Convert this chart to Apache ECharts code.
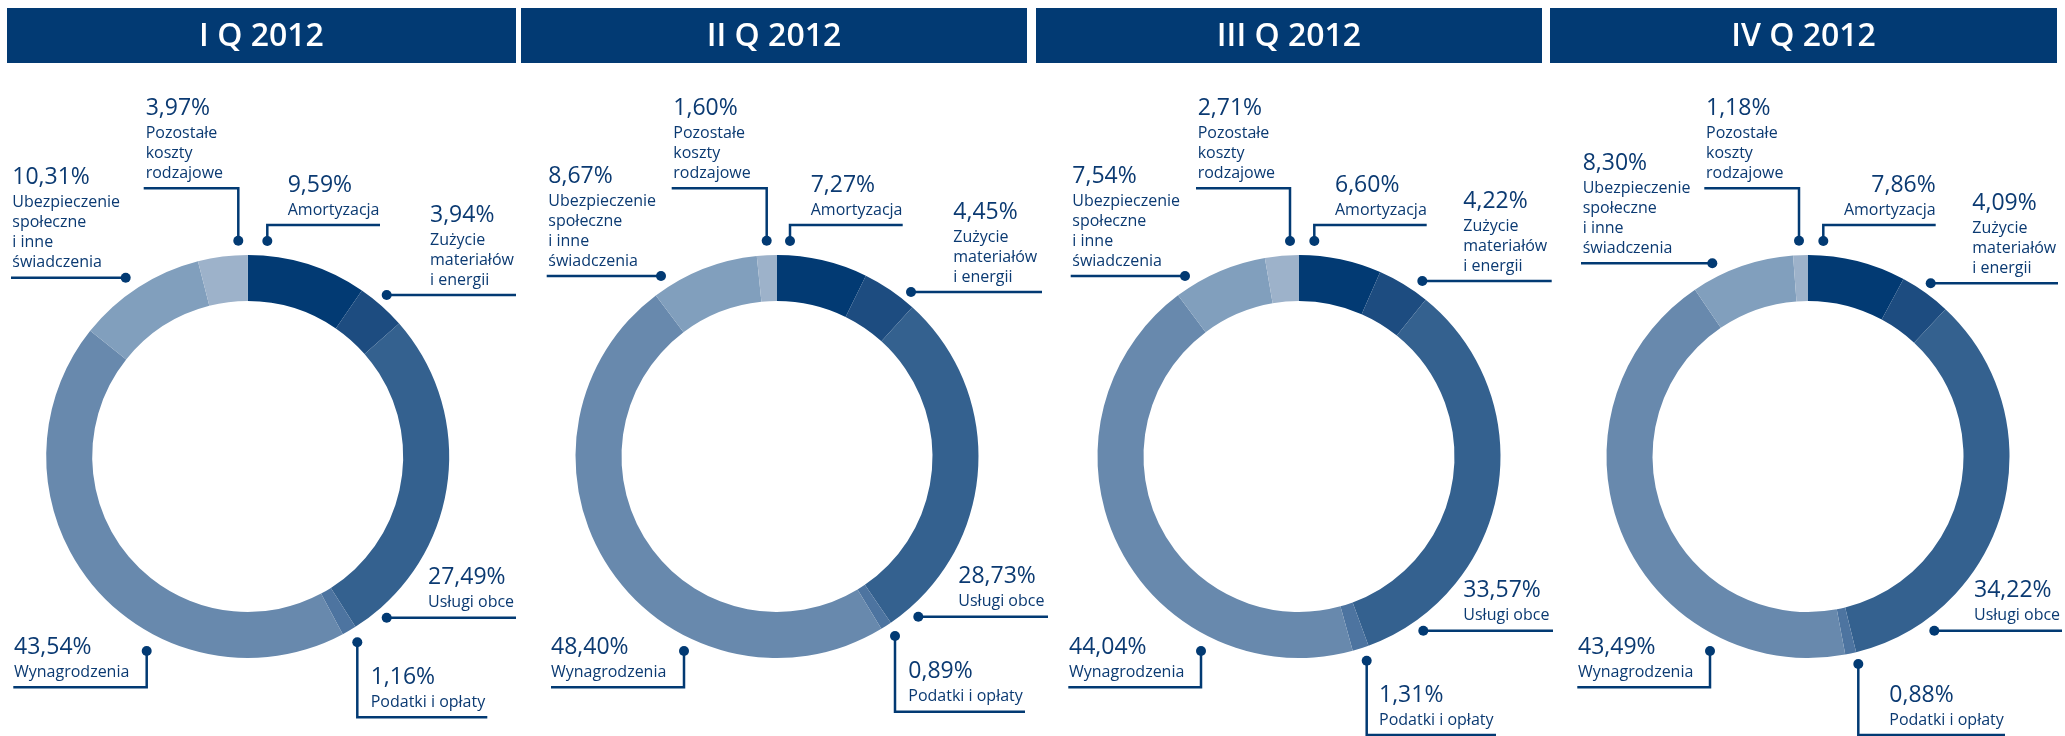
<!DOCTYPE html>
<html><head><meta charset="utf-8">
<script src="https://cdn.jsdelivr.net/npm/echarts@6/dist/echarts.min.js"></script>
<style>html,body{margin:0;padding:0;background:#fff}#c{width:2065px;height:736px}</style>
</head><body><div id="c"></div>
<script>
// ---- data ----
const quarters = ['I Q 2012', 'II Q 2012', 'III Q 2012', 'IV Q 2012'];
const categories = ['Amortyzacja', 'Zużycie materiałów i energii', 'Usługi obce', 'Podatki i opłaty',
  'Wynagrodzenia', 'Ubezpieczenie społeczne i inne świadczenia', 'Pozostałe koszty rodzajowe'];
const labelText = ['Amortyzacja', 'Zużycie\nmateriałów\ni energii', 'Usługi obce', 'Podatki i opłaty',
  'Wynagrodzenia', 'Ubezpieczenie\nspołeczne\ni inne\nświadczenia', 'Pozostałe\nkoszty\nrodzajowe'];
const q1 = [9.59, 3.94, 27.49, 1.16, 43.54, 10.31, 3.97];
const q2 = [7.27, 4.45, 28.73, 0.89, 48.40, 8.67, 1.60];
const q3 = [6.60, 4.22, 33.57, 1.31, 44.04, 7.54, 2.71];
const q4 = [7.86, 4.09, 34.22, 0.88, 43.49, 8.30, 1.18];
const quarterValues = [q1, q2, q3, q4];

// ---- styles / layout ----
const NAVY = '#023a73';
const TEXT = '#0b3a72';
const colors = ['#023a73', '#1d4c80', '#34618f', '#4d74a0', '#6889ad', '#819fbd', '#9db2ca'];
const centersX = [247.7, 777, 1299, 1808];
const CY = 456.5;
const bars = [[7, 516], [521, 1027], [1036, 1542], [1550, 2057]];
// d: dot, c: corner (or null), e: line end, lx: label x, al: align
const LAYOUT = [
  [
    {d:[267.3,241], c:[267.3,225], e:[380,225], lx:287.7},
    {d:[386.7,295], c:null, e:[516,295], lx:430},
    {d:[386.7,617.7], c:null, e:[516,617.7], lx:428},
    {d:[357.3,642.3], c:[357.3,717.3], e:[487.3,717.3], lx:370.7},
    {d:[146.7,651], c:[146.7,687.3], e:[13.3,687.3], lx:14},
    {d:[125.7,277.7], c:null, e:[11,277.7], lx:12.3},
    {d:[238.3,240.7], c:[238.3,188.3], e:[143.7,188.3], lx:145.7}
  ],
  [
    {d:[790,241], c:[790,225], e:[902.7,225], lx:810.7},
    {d:[911,292], c:null, e:[1042,292], lx:953.3},
    {d:[918.3,616.7], c:null, e:[1048,616.7], lx:958.3},
    {d:[895,636], c:[895,711.7], e:[1025,711.7], lx:908.3},
    {d:[684,651], c:[684,687.3], e:[551,687.3], lx:551},
    {d:[661,276], c:null, e:[546.7,276], lx:548.3},
    {d:[766.7,240.7], c:[766.7,188.3], e:[671.7,188.3], lx:673.3}
  ],
  [
    {d:[1314.3,241], c:[1314.3,225], e:[1426.7,225], lx:1335},
    {d:[1422.3,281], c:null, e:[1551.7,281], lx:1463.3},
    {d:[1423.3,630.7], c:null, e:[1553,630.7], lx:1463.3},
    {d:[1366.7,660.7], c:[1366.7,735], e:[1496,735], lx:1379},
    {d:[1201,651], c:[1201,687.3], e:[1068.3,687.3], lx:1069},
    {d:[1185,276], c:null, e:[1070.7,276], lx:1072.3},
    {d:[1290,241], c:[1290,188.3], e:[1196,188.3], lx:1197.7}
  ],
  [
    {d:[1823.3,241], c:[1823.3,225], e:[1935.7,225], lx:1935.7, al:'right'},
    {d:[1930.7,283.3], c:null, e:[2058,283.3], lx:1972.3},
    {d:[1934.3,630.7], c:null, e:[2062,630.7], lx:1974},
    {d:[1858.3,664], c:[1858.3,735], e:[2005,735], lx:1889.3},
    {d:[1710,651], c:[1710,687.3], e:[1577.3,687.3], lx:1578},
    {d:[1712.3,263.3], c:null, e:[1581,263.3], lx:1582.7},
    {d:[1799,240.7], c:[1799,188.3], e:[1704.3,188.3], lx:1706}
  ]
];

function fmt(v) { return v.toFixed(2).replace('.', ',') + '%'; }

const chart = echarts.init(document.getElementById('c'));

const series = quarterValues.map((vals, s) => ({
  type: 'pie',
  name: quarters[s],
  center: [centersX[s], CY],
  radius: [155.5, 201.5],
  startAngle: 90,
  clockwise: true,
  avoidLabelOverlap: false,
  silent: true,
  animation: false,
  emphasis: { disabled: true },
  itemStyle: { borderWidth: 0 },
  data: vals.map((v, i) => ({ name: categories[i], value: v, itemStyle: { color: colors[i] } })),
  label: {
    show: true,
    position: 'outside',
    formatter: (p) => {
      const L = LAYOUT[s][p.dataIndex];
      const r = L.al === 'right';
      const pk = r ? 'pr' : 'p', nk = r ? 'nr' : 'n';
      return '{' + pk + '|' + fmt(p.value) + '}\n' +
        labelText[p.dataIndex].split('\n').map(t => '{' + nk + '|' + t + '}').join('\n');
    },
    rich: {
      p: { fontFamily: 'Open Sans', fontSize: 23, fontWeight: 'normal', lineHeight: 30, color: TEXT, align: 'left' },
      n: { fontFamily: 'Open Sans', fontSize: 16, lineHeight: 20, color: TEXT, align: 'left' },
      pr: { fontFamily: 'Open Sans', fontSize: 23, fontWeight: 'normal', lineHeight: 30, color: TEXT, align: 'right' },
      nr: { fontFamily: 'Open Sans', fontSize: 16, lineHeight: 20, color: TEXT, align: 'right' }
    }
  },
  labelLine: { show: true, smooth: false, lineStyle: { color: NAVY, width: 2.5 } },
  labelLayout: (p) => {
    const L = LAYOUT[s][p.dataIndex];
    const mid = L.c || [(L.d[0] + L.e[0]) / 2, L.d[1]];
    return {
      x: L.lx,
      y: L.e[1] - 5,
      align: L.al || 'left',
      verticalAlign: 'bottom',
      labelLinePoints: [L.d, mid, L.e]
    };
  }
}));

const graphics = [];
bars.forEach((b, s) => {
  graphics.push({ type: 'rect', z: 1, shape: { x: b[0], y: 8, width: b[1] - b[0], height: 55 }, style: { fill: NAVY } });
  graphics.push({ type: 'text', z: 2, style: { text: quarters[s], x: (b[0] + b[1]) / 2, y: 37, align: 'center', verticalAlign: 'middle',
    fill: '#ffffff', font: '600 32px "Open Sans"' } });
});
LAYOUT.forEach(panel => panel.forEach(L => {
  graphics.push({ type: 'circle', z: 100, shape: { cx: L.d[0], cy: L.d[1], r: 5 }, style: { fill: NAVY } });
}));

chart.setOption({
  animation: false,
  backgroundColor: '#ffffff',
  graphic: { elements: graphics },
  series: series
});
</script></body></html>
